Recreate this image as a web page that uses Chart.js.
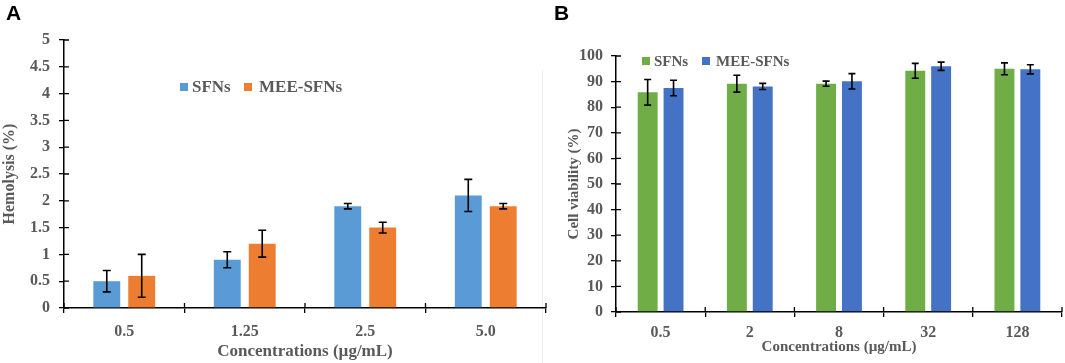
<!DOCTYPE html>
<html>
<head>
<meta charset="utf-8">
<script src="https://cdn.jsdelivr.net/npm/chart.js@4.4.0/dist/chart.umd.min.js"></script>
<style>
  body { margin: 0; background: #fff; width: 1065px; height: 363px; overflow: hidden; position: relative; }
  .panel { position: absolute; top: 0; height: 363px; }
  #wrapA { left: 0; width: 550px; }
  #wrapB { left: 530px; width: 535px; }
  .lbl { position: absolute; font: bold 21px "Liberation Sans", Arial, sans-serif; color: #000; }
  .edge { position: absolute; left: 542px; top: 70px; width: 0; height: 293px; border-left: 1px solid #eeeeee; }
</style>
</head>
<body>
<div class="edge"></div>
<div class="panel" id="wrapA"><canvas id="chartA"></canvas></div>
<div class="panel" id="wrapB"><canvas id="chartB"></canvas></div>
<div class="lbl" style="left:6px;top:1px;">A</div>
<div class="lbl" style="left:554px;top:1px;">B</div>
<script>
// panel A - hemolysis
const aCategories = ['0.5', '1.25', '2.5', '5.0'];
const aSfn = [0.5, 0.9, 1.9, 2.1];
const aSfnErr = [0.2, 0.15, 0.05, 0.3];
const aMee = [0.6, 1.2, 1.5, 1.9];
const aMeeErr = [0.4, 0.25, 0.1, 0.05];

// panel B - cell viability
const bCategories = ['0.5', '2', '8', '32', '128'];
const bSfn = [85.8, 89.2, 89.2, 94.2, 95];
const bSfnErr = [5, 3.3, 1, 2.9, 2.3];
const bMee = [87.5, 88.1, 90.1, 96, 94.8];
const bMeeErr = [3, 1.2, 3, 1.6, 1.8];

const SERIF = '"Liberation Serif", "Times New Roman", serif';
const GREY = '#595959';

// error bars drawn through the y scale
const errorBars = {
  id: 'errorBars',
  afterDatasetsDraw(chart, args, opts) {
    const ctx = chart.ctx;
    const y = chart.scales.y;
    ctx.save();
    ctx.strokeStyle = '#000';
    ctx.lineWidth = opts.width || 1.6;
    chart.data.datasets.forEach((ds, i) => {
      const meta = chart.getDatasetMeta(i);
      meta.data.forEach((bar, j) => {
        const v = ds.data[j], e = ds.errors[j];
        const top = y.getPixelForValue(v + e);
        const bot = y.getPixelForValue(v - e);
        const c = opts.cap || 4;
        ctx.beginPath();
        ctx.moveTo(bar.x, top); ctx.lineTo(bar.x, bot);
        ctx.moveTo(bar.x - c, top); ctx.lineTo(bar.x + c, top);
        ctx.moveTo(bar.x - c, bot); ctx.lineTo(bar.x + c, bot);
        ctx.stroke();
      });
    });
    ctx.restore();
  }
};

// inner half of the "cross" tick marks
const crossTicks = {
  id: 'crossTicks',
  afterDraw(chart) {
    const ctx = chart.ctx;
    const {left, right, bottom} = chart.chartArea;
    const x = chart.scales.x, y = chart.scales.y;
    ctx.save();
    ctx.strokeStyle = '#000';
    ctx.lineWidth = 1.3;
    ctx.beginPath();
    y.ticks.forEach((t, i) => {
      const py = y.getPixelForTick(i);
      ctx.moveTo(left, py); ctx.lineTo(left + 5, py);
    });
    const n = x.ticks.length;
    for (let k = 0; k <= n; k++) {
      const px = left + (right - left) * k / n;
      ctx.moveTo(px, bottom); ctx.lineTo(px, bottom - 5);
    }
    ctx.stroke();
    ctx.restore();
  }
};

// small square legend placed inside the plot
const boxLegend = {
  id: 'boxLegend',
  afterDraw(chart, args, opts) {
    const ctx = chart.ctx;
    ctx.save();
    ctx.font = 'bold ' + opts.size + 'px ' + SERIF;
    ctx.textBaseline = 'middle';
    chart.data.datasets.forEach((ds, i) => {
      const it = opts.items[i];
      ctx.fillStyle = ds.backgroundColor;
      ctx.fillRect(it.box, opts.y - 4, 8, 8);
      ctx.fillStyle = GREY;
      ctx.fillText(ds.label, it.text, opts.y + 1);
    });
    ctx.restore();
  }
};

function axisFont(size) {
  return { family: SERIF, size: size, weight: 'bold' };
}

function makeChart(id, cfg) {
  return new Chart(document.getElementById(id), {
    type: 'bar',
    data: {
      labels: cfg.labels,
      datasets: [
        { label: 'SFNs', data: cfg.s1, errors: cfg.e1, backgroundColor: cfg.c1,
          categoryPercentage: 0.58, barPercentage: 0.77 },
        { label: 'MEE-SFNs', data: cfg.s2, errors: cfg.e2, backgroundColor: cfg.c2,
          categoryPercentage: 0.58, barPercentage: 0.77 }
      ]
    },
    options: {
      responsive: true,
      maintainAspectRatio: false,
      animation: false,
      layout: { padding: { top: cfg.top, right: cfg.right, left: 0, bottom: 0 } },
      plugins: {
        legend: { display: false },
        tooltip: { enabled: false },
        errorBars: { width: 1.6, cap: cfg.cap },
        boxLegend: cfg.legend
      },
      scales: {
        x: {
          grid: { display: true, drawOnChartArea: false, drawTicks: true, tickLength: 5, color: '#000', lineWidth: 1.3 },
          border: { color: '#000', width: 1.5 },
          ticks: { color: GREY, font: axisFont(cfg.tickSize), padding: cfg.xTickPad },
          title: { display: true, text: 'Concentrations (µg/mL)', color: GREY,
                   font: axisFont(cfg.xTitleSize), padding: { top: 0, bottom: cfg.xTitlePad } },
          afterFit: s => { s.height = cfg.xHeight; }
        },
        y: {
          min: 0,
          max: cfg.max,
          grid: { display: true, drawOnChartArea: false, drawTicks: true, tickLength: 5, color: '#000', lineWidth: 1.3 },
          border: { color: '#000', width: 1.5 },
          ticks: { stepSize: cfg.step, color: GREY, font: axisFont(cfg.tickSize), padding: cfg.yTickPad,
                   callback: v => String(+v.toFixed(2)) },
          title: { display: true, text: cfg.yTitle, color: GREY,
                   font: axisFont(cfg.yTitleSize), padding: { top: cfg.yTitlePad, bottom: 0 } },
          afterFit: s => { s.width = cfg.yWidth; }
        }
      }
    },
    plugins: [errorBars, crossTicks, boxLegend]
  });
}

makeChart('chartA', {
  labels: aCategories, s1: aSfn, e1: aSfnErr, s2: aMee, e2: aMeeErr,
  c1: '#5B9BD5', c2: '#ED7D31',
  top: 40, right: 4, xHeight: 55, yWidth: 64,
  max: 5, step: 0.5, cap: 4,
  tickSize: 16, xTickPad: 9, yTickPad: 9,
  xTitleSize: 17, xTitlePad: 1,
  yTitle: 'Hemolysis (%)', yTitleSize: 16, yTitlePad: 0,
  legend: { size: 17, y: 87, items: [{ box: 180, text: 192 }, { box: 244, text: 259 }] }
});

makeChart('chartB', {
  labels: bCategories, s1: bSfn, e1: bSfnErr, s2: bMee, e2: bMeeErr,
  c1: '#70AD47', c2: '#4472C4',
  top: 56, right: 3, xHeight: 51, yWidth: 86,
  max: 100, step: 10, cap: 3.5,
  tickSize: 16, xTickPad: 6, yTickPad: 8,
  xTitleSize: 15, xTitlePad: 7,
  yTitle: 'Cell viability (%)', yTitleSize: 15, yTitlePad: 35,
  legend: { size: 15, y: 61, items: [{ box: 112, text: 124 }, { box: 172, text: 186 }] }
});
</script>
</body>
</html>
